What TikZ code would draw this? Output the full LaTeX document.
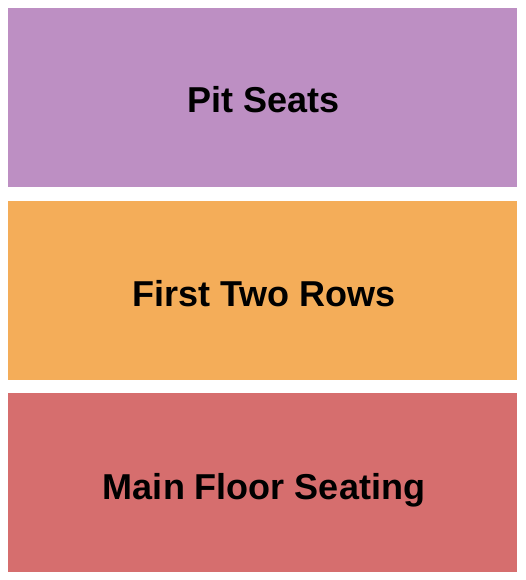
\documentclass[tikz,border=0pt]{standalone}
\usepackage{fontspec}
\setmainfont{Liberation Sans}
\usepackage{xcolor}
\definecolor{pitpurple}{RGB}{189,143,195}
\definecolor{rowsorange}{RGB}{244,173,89}
\definecolor{floorred}{RGB}{214,110,110}

\begin{document}
\begin{tikzpicture}[x=1pt, y=-1pt,
  section/.style={rectangle, draw=none, minimum width=509pt, minimum height=179pt, inner sep=0pt},
  every node/.style={font=\fontsize{36}{43}\selectfont\bfseries}]
\useasboundingbox (0,0) rectangle (525,580);
% Sections
\node[section, fill=pitpurple] (pit) at (262.5,97.5) {};
\node[section, fill=rowsorange] (rows) at (262.5,290.5) {};
\node[section, fill=floorred] (floor) at (262.5,482.5) {};
% Labels
\node[anchor=base, inner sep=0pt] (pitlabel) at ([xshift=1.5pt, yshift=-15.5pt]pit.center) {Pit Seats};
\node[anchor=base, inner sep=0pt] (rowslabel) at ([xshift=1.5pt, yshift=-15.5pt]rows.center) {First Two Rows};
\node[anchor=base, inner sep=0pt] (floorlabel) at ([xshift=1.5pt, yshift=-16.5pt]floor.center) {Main Floor Seating};
\end{tikzpicture}
\end{document}
